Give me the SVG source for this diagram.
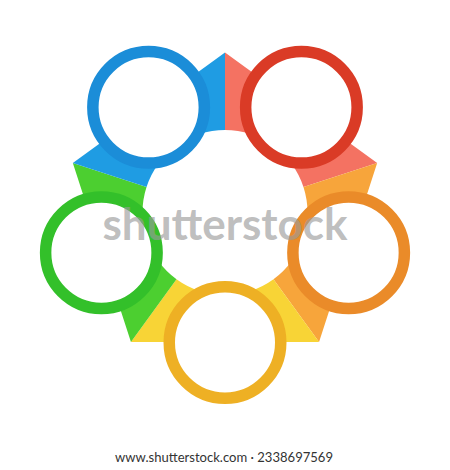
<svg xmlns="http://www.w3.org/2000/svg" width="450" height="470" viewBox="0 0 450 470">
<style>
.ring{fill:#ffffff;stroke-width:11.5}
.wm{font-family:Lato,"Open Sans","DejaVu Sans",sans-serif}
</style>
<rect x="0" y="0" width="450" height="470" fill="#ffffff"/>
<g id="band">
<path id="seg-red" d="M225 52.5 L377.17 163.06 L303.46 187.01 A82.5 82.5 0 0 0 225 130 Z" fill="#F47262"/>
<path id="seg-orange" d="M377.17 163.06 L319.05 341.94 L273.49 279.24 A82.5 82.5 0 0 0 303.46 187.01 Z" fill="#F7A53B"/>
<path id="seg-yellow" d="M319.05 341.94 L130.95 341.94 L176.51 279.24 A82.5 82.5 0 0 0 273.49 279.24 Z" fill="#F8D436"/>
<path id="seg-green" d="M130.95 341.94 L72.83 163.06 L146.54 187.01 A82.5 82.5 0 0 0 176.51 279.24 Z" fill="#4CCF30"/>
<path id="seg-blue" d="M72.83 163.06 L225 52.5 L225 130 A82.5 82.5 0 0 0 146.54 187.01 Z" fill="#1F9CE3"/>
</g>
<g id="node-blue"><circle class="ring" cx="148.59" cy="107.33" r="55.75" stroke="#1B8DD8"/></g>
<g id="node-red"><circle class="ring" cx="301.41" cy="107.33" r="55.75" stroke="#DA3B26"/></g>
<g id="node-green"><circle class="ring" cx="101.36" cy="252.67" r="55.75" stroke="#33C02A"/></g>
<g id="node-orange"><circle class="ring" cx="348.64" cy="252.67" r="55.75" stroke="#EA8B29"/></g>
<g id="node-yellow"><circle class="ring" cx="225" cy="342.5" r="55.75" stroke="#EEB024"/></g>
<g id="connectors"></g>
<text class="wm" x="225" y="240" text-anchor="middle" font-size="44" font-weight="bold" fill="#9a9a9a" fill-opacity="0.65" textLength="245" lengthAdjust="spacingAndGlyphs">shutterstock</text>
<text class="wm" x="224" y="462" text-anchor="middle" font-size="13" fill="#333333" textLength="218" lengthAdjust="spacingAndGlyphs">www.shutterstock.com · 2338697569</text>
</svg>
